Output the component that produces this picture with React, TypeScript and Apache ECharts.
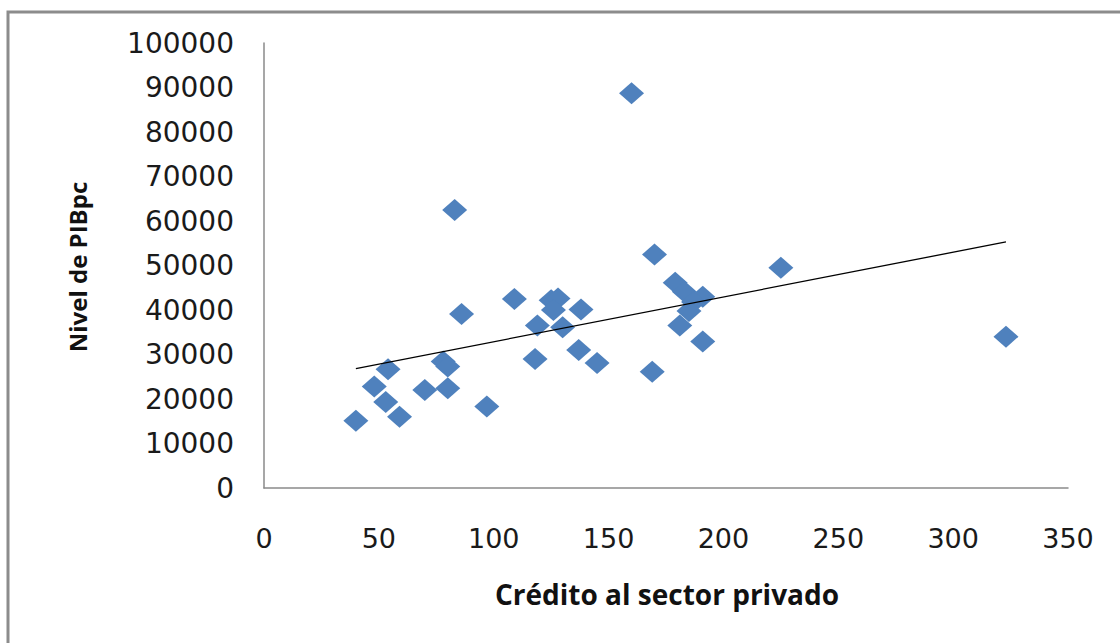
import React, { useEffect, useRef } from "react";
import * as echarts from "echarts";

const credito: number[] = [
  40, 48, 54, 53, 59, 70, 78, 80, 80, 83, 86, 97, 109, 119, 118, 125, 128,
  126, 130, 138, 137, 145, 160, 170, 169, 179, 183, 191, 187, 185, 181, 191,
  225, 323,
];
const pib: number[] = [
  15100, 22800, 26700, 19300, 16000, 22000, 28400, 27300, 22400, 62500, 39100,
  18300, 42500, 36500, 29000, 42200, 42600, 40000, 36100, 40100, 31000, 28100,
  88700, 52500, 26100, 46100, 44100, 43000, 41800, 39800, 36500, 32900, 49500,
  34000,
];
const xTicks: number[] = [0, 50, 100, 150, 200, 250, 300, 350];
const yTicks: number[] = [0, 10000, 20000, 30000, 40000, 50000, 60000, 70000, 80000, 90000, 100000];
const xTitle = "Crédito al sector privado";
const yTitle = "Nivel de PIBpc";

function trend(xs: number[], ys: number[]) {
  const n = xs.length;
  const mx = xs.reduce((a, b) => a + b, 0) / n;
  const my = ys.reduce((a, b) => a + b, 0) / n;
  let sxy = 0;
  let sxx = 0;
  for (let i = 0; i < n; i++) {
    sxy += (xs[i] - mx) * (ys[i] - my);
    sxx += (xs[i] - mx) * (xs[i] - mx);
  }
  const b = sxy / sxx;
  const a = my - b * mx;
  const x0 = Math.min(...xs);
  const x1 = Math.max(...xs);
  return [
    [x0, a + b * x0],
    [x1, a + b * x1],
  ];
}

export default function App() {
  const ref = useRef<HTMLDivElement>(null);
  useEffect(() => {
    if (!ref.current) return;
    const chart = echarts.init(ref.current, undefined, { renderer: "svg" });
    const pts = credito.map((x, i) => [x, pib[i]]);
    chart.setOption({
      animation: false,
      backgroundColor: "#ffffff",
      grid: { left: 264, right: 52, top: 43, bottom: 155, containLabel: false },
      xAxis: {
        type: "value",
        min: xTicks[0],
        max: xTicks[xTicks.length - 1],
        interval: 50,
        splitLine: { show: false },
        axisTick: { show: false },
        axisLine: { show: true, lineStyle: { color: "#8a8a8a", width: 1.5 } },
        axisLabel: {
          margin: 37,
          color: "#1a1a1a",
          fontFamily: "DejaVu Sans",
          fontSize: 27,
          formatter: (v: number) => String(v),
        },
      },
      yAxis: {
        type: "value",
        min: yTicks[0],
        max: yTicks[yTicks.length - 1],
        interval: 10000,
        splitLine: { show: false },
        axisTick: { show: false },
        axisLine: { show: true, lineStyle: { color: "#8a8a8a", width: 1.5 } },
        axisLabel: {
          margin: 30,
          color: "#1a1a1a",
          fontFamily: "DejaVu Sans",
          fontSize: 28,
          formatter: (v: number) => String(v),
        },
      },
      graphic: [
        {
          type: "rect",
          shape: { x: 8, y: 12, width: 1200, height: 700 },
          style: { fill: "none", stroke: "#8c8c8c", lineWidth: 3 },
          silent: true,
        },
        {
          type: "text",
          x: 667,
          y: 594,
          style: {
            text: xTitle,
            fontFamily: "Open Sans",
            fontWeight: "bold",
            fontSize: 28,
            fill: "#111111",
            align: "center",
            verticalAlign: "middle",
          },
        },
        {
          type: "text",
          x: 77,
          y: 267,
          rotation: Math.PI / 2,
          style: {
            text: yTitle,
            fontFamily: "Open Sans",
            fontWeight: "bold",
            fontSize: 24,
            fill: "#111111",
            align: "center",
            verticalAlign: "middle",
          },
        },
      ],
      series: [
        {
          type: "scatter",
          data: pts,
          symbol: "diamond",
          symbolSize: [25, 22],
          itemStyle: { color: "#4f81bd", opacity: 1 },
          z: 2,
        },
        {
          type: "line",
          data: trend(credito, pib),
          symbol: "none",
          lineStyle: { color: "#000000", width: 1.3 },
          z: 3,
        },
      ],
    });
    return () => chart.dispose();
  }, []);
  return (
    <div
      ref={ref}
      style={{ position: "fixed", left: 0, top: 0, width: 1120, height: 643 }}
    />
  );
}
